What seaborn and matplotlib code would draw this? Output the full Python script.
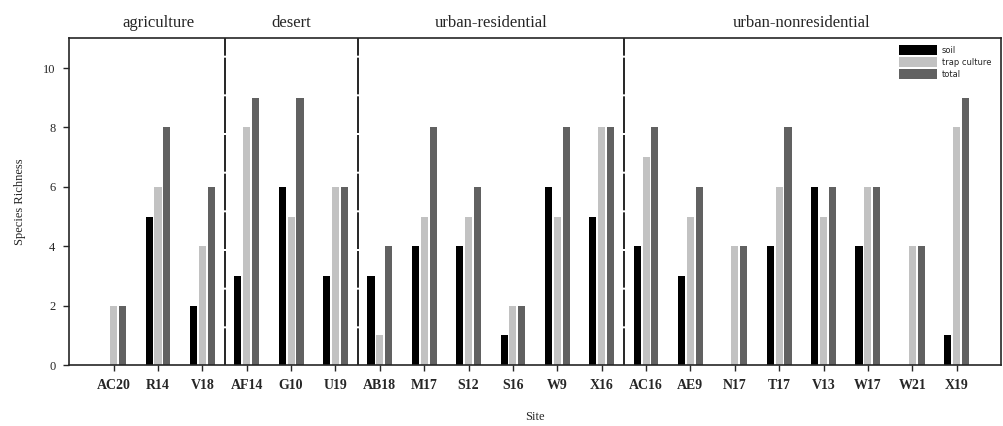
import matplotlib
matplotlib.use('Agg')
import matplotlib.pyplot as plt
import pandas as pd
import seaborn as sns

# Data
sites = ['AC20', 'R14', 'V18', 'AF14', 'G10', 'U19', 'AB18', 'M17', 'S12', 'S16',
         'W9', 'X16', 'AC16', 'AE9', 'N17', 'T17', 'V13', 'W17', 'W21', 'X19']
soil = [0, 5, 2, 3, 6, 3, 3, 4, 4, 1, 6, 5, 4, 3, 0, 4, 6, 4, 0, 1]
trap_culture = [2, 6, 4, 8, 5, 6, 1, 5, 5, 2, 5, 8, 7, 5, 4, 6, 5, 6, 4, 8]
total = [2, 8, 6, 9, 9, 6, 4, 8, 6, 2, 8, 8, 8, 6, 4, 8, 6, 6, 4, 9]
groups = ['agriculture', 'desert', 'urban-residential', 'urban-nonresidential']
group_sizes = [3, 3, 6, 8]

df = pd.DataFrame({'Site': sites, 'soil': soil, 'trap culture': trap_culture, 'total': total})
df_long = df.melt(id_vars='Site', var_name='source', value_name='Species Richness')

sns.set_style('ticks')
plt.rcParams['font.family'] = ['Liberation Serif', 'DejaVu Serif']

fig, ax = plt.subplots(figsize=(10.04, 4.26), dpi=100)
fig.subplots_adjust(left=0.069, right=0.997, top=0.91, bottom=0.143)

sns.barplot(data=df_long, x='Site', y='Species Richness', hue='source', order=sites,
            palette=['#000000', '#c2c2c2', '#616161'], width=0.6, gap=0.2,
            errorbar=None, ax=ax, saturation=1, linewidth=0)

ax.set_xlim(-1, 20)
ax.set_ylim(0, 11)
ax.set_yticks([0, 2, 4, 6, 8, 10])
ax.set_xlabel('Site', fontsize=9, labelpad=14)
ax.set_ylabel('Species Richness', fontsize=9, labelpad=12)
ax.tick_params(axis='x', labelsize=10, length=4, width=1, pad=6)
ax.tick_params(axis='y', labelsize=9, length=4, width=1, pad=6)
for lbl in ax.get_xticklabels():
    lbl.set_fontweight('bold')
for sp in ax.spines.values():
    sp.set_visible(True)
    sp.set_linewidth(1.2)

# group dividers and titles
start = 0
for name, n in zip(groups, group_sizes):
    end = start + n
    if end < len(sites):
        ax.axvline(end - 0.5, color='black', lw=1.2, linestyle=(0, (22, 1.2)))
    left = max(start - 0.5, -1)
    ax.text((left + end - 0.5) / 2, 11.5, name, ha='center', va='center', fontsize=12)
    start = end

leg = ax.legend(loc='upper right', bbox_to_anchor=(0.995, 0.995), frameon=False,
                handlelength=4.5, handleheight=1.4, labelspacing=0.3,
                handletextpad=0.6, borderaxespad=0.2,
                prop={'family': 'DejaVu Sans', 'size': 6})

fig.savefig('out.png', dpi=100)
